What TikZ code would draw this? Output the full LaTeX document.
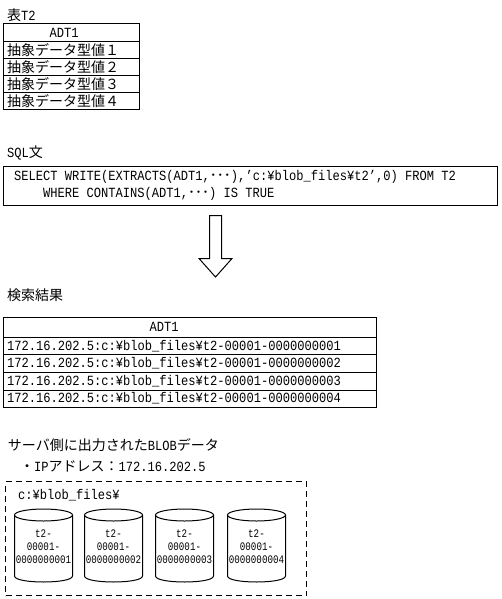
\documentclass[tikz,border=0pt]{standalone}
\usepackage{fontspec}
\newfontfamily\cjkf{Noto Sans CJK JP}
\newfontfamily\latf[FakeStretch=0.864]{Liberation Mono}
\newfontfamily\smallf[FakeStretch=0.80]{Liberation Mono}
\newcommand{\cj}[1]{{\cjkf\fontsize{14}{14}\selectfont #1}}
\newcommand{\la}[1]{{\latf\fontsize{14}{14}\selectfont #1}}
\newcommand{\diskshape}[3]{%
  \draw[diskline] ({#2-29},515) -- ({#2-29},576) .. controls ({#2-29},584) and ({#2+29},584) .. ({#2+29},576) -- ({#2+29},515);
  \draw[diskline] (#2,515) ellipse [x radius=29pt,y radius=6pt];
  \node[disktext] (#1) at (#2,547) {t2-\\00001-\\#3};
}
\tikzset{
  x=1pt,y=-1pt,
  cell/.style={draw=black,line width=1pt,inner sep=0pt,outer sep=0pt,anchor=north west},
  txt/.style={inner sep=0pt,outer sep=0pt,anchor=west,text=black},
  diskline/.style={draw=black,line width=1pt},
  disktext/.style={inner sep=0pt,outer sep=0pt,anchor=center,
    align=center,font=\smallf\fontsize{11.5}{13}\selectfont},
}
\begin{document}
\begin{tikzpicture}
\useasboundingbox (0,0) rectangle (501,599);
\fill[white] (0,0) rectangle (501,599);
% T2
\node[txt] (lblT) at (7,15) {\cj{表}\la{T2}};
\node[cell,minimum width=136pt,minimum height=18pt] (th) at (3.5,23.5) {};
\node[txt] (tht) at (49.5,32.5) {\la{ADT1}};
\node[cell,minimum width=136pt,minimum height=17pt] (r1) at (3.5,41.5) {};
\node[cell,minimum width=136pt,minimum height=17pt] (r2) at (3.5,58.5) {};
\node[cell,minimum width=136pt,minimum height=17pt] (r3) at (3.5,75.5) {};
\node[cell,minimum width=136pt,minimum height=17pt] (r4) at (3.5,92.5) {};
\node[txt] (t1) at (7,50) {\cj{抽象データ型値１}};
\node[txt] (t2) at (7,67) {\cj{抽象データ型値２}};
\node[txt] (t3) at (7,84) {\cj{抽象データ型値３}};
\node[txt] (t4) at (7,101) {\cj{抽象データ型値４}};
% SQL
\node[txt] (lblS) at (7,153) {\la{SQL}\cj{文}};
\node[cell,minimum width=494pt,minimum height=39pt] (sql) at (3.5,166.5) {};
\node[txt] (s1) at (14,177) {\la{SELECT WRITE(EXTRACTS(ADT1,\cj{･･･}),’c:¥blob\_files¥t2’,0) FROM T2}};
\node[txt] (s2) at (43,194) {\la{WHERE CONTAINS(ADT1,\cj{･･･}) IS TRUE}};
% arrow
\draw[line width=1pt,fill=white] (209.5,215.5) -- (221.5,215.5) -- (221.5,258.5) -- (232,258.5)
  -- (215.5,277) -- (199,258.5) -- (209.5,258.5) -- cycle;
% results
\node[txt] (lblR) at (7,295) {\cj{検索結果}};
\node[cell,minimum width=373pt,minimum height=20pt] (rh) at (3.5,317.5) {};
\node[txt] (rht) at (149.5,327) {\la{ADT1}};
\node[cell,minimum width=373pt,minimum height=17pt] (q1) at (3.5,337.5) {};
\node[cell,minimum width=373pt,minimum height=18pt] (q2) at (3.5,354.5) {};
\node[cell,minimum width=373pt,minimum height=18pt] (q3) at (3.5,372.5) {};
\node[cell,minimum width=373pt,minimum height=17pt] (q4) at (3.5,390.5) {};
\node[txt] (u1) at (7,346) {\la{172.16.202.5:c:¥blob\_files¥t2-00001-0000000001}};
\node[txt] (u2) at (7,363) {\la{172.16.202.5:c:¥blob\_files¥t2-00001-0000000002}};
\node[txt] (u3) at (7,381) {\la{172.16.202.5:c:¥blob\_files¥t2-00001-0000000003}};
\node[txt] (u4) at (7,398) {\la{172.16.202.5:c:¥blob\_files¥t2-00001-0000000004}};
% server
\node[txt] (lblB) at (8,445) {\cj{サーバ側に出力された}\la{BLOB}\cj{データ}};
\node[txt] (lblI) at (20,466) {\cj{・}\la{IP}\cj{アドレス：}\la{172.16.202.5}};
\node[cell,dashed,dash pattern=on 6pt off 4pt,minimum width=301pt,minimum height=114pt] (dir) at (5.5,481.5) {};
\node[txt] (lblD) at (18,495) {\la{c:¥blob\_files¥}};
\diskshape{d1}{43.5}{0000000001}
\diskshape{d2}{113.5}{0000000002}
\diskshape{d3}{184.5}{0000000003}
\diskshape{d4}{256.5}{0000000004}
\end{tikzpicture}
\end{document}
